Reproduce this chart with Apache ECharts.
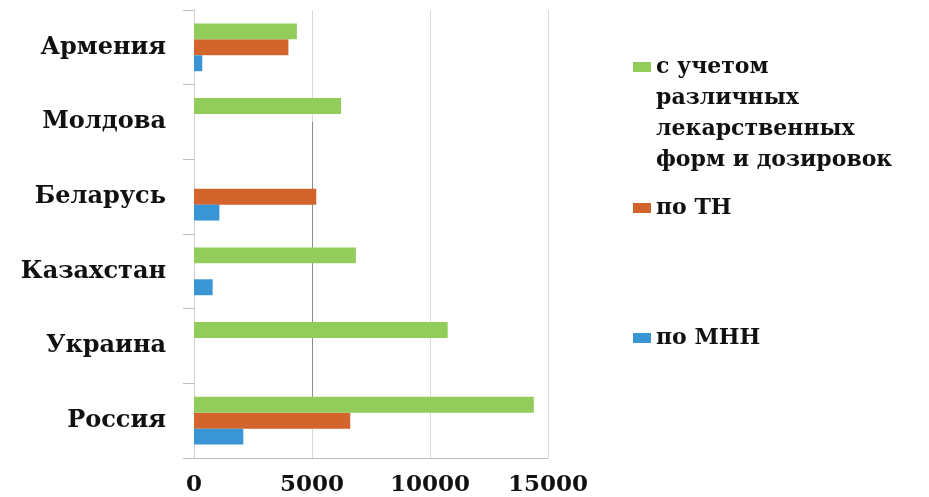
<!DOCTYPE html>
<html>
<head>
<meta charset="utf-8">
<script src="https://cdn.jsdelivr.net/npm/echarts@6/dist/echarts.min.js"></script>
<style>html,body{margin:0;padding:0;background:#fff}#c{width:929px;height:497px}</style>
</head>
<body>
<div id="c"></div>
<script>
const categories = ['Россия', 'Украина', 'Казахстан', 'Беларусь', 'Молдова', 'Армения'];
const seriesNames = ['с учетом различных лекарственных форм и дозировок', 'по ТН', 'по МНН'];
const valuesForms = [14400, 10750, 6860, null, 6230, 4360];
const valuesTN = [6620, null, null, 5180, null, 4000];
const valuesMNN = [2090, null, 790, 1075, null, 350];
const xTicks = [0, 5000, 10000, 15000];

const colors = ['#92CD5B', '#D2642C', '#3A95D4'];
const font = 'DejaVu Serif';

const chart = echarts.init(document.getElementById('c'));
const legendText = {fontFamily: font, fontWeight: 'bold', fontSize: 22, color: '#111', lineHeight: 31};
chart.setOption({
  animation: false,
  grid: {left: 194, right: 381, top: 10, bottom: 39, containLabel: false},
  legend: [
    {data: [seriesNames[0]], left: 633, top: 51.5, padding: 0,
     itemWidth: 18, itemHeight: 124, selectedMode: false,
     icon: 'path://M0,0M18,124M0,10.5L18,10.5L18,20.5L0,20.5Z',
     formatter: () => 'с учетом\nразличных\nлекарственных\nформ и дозировок',
     textStyle: legendText},
    {data: [seriesNames[1]], left: 633, top: 192.5, padding: 0, icon: 'rect',
     itemWidth: 18, itemHeight: 10, selectedMode: false, textStyle: legendText},
    {data: [seriesNames[2]], left: 633, top: 322.5, padding: 0, icon: 'rect',
     itemWidth: 18, itemHeight: 10, selectedMode: false, textStyle: legendText}
  ],
  xAxis: {
    type: 'value', min: xTicks[0], max: xTicks[xTicks.length - 1], interval: 5000,
    axisLine: {show: true, lineStyle: {color: '#bfbfbf'}},
    axisTick: {show: false},
    splitLine: {lineStyle: {color: '#d9d9d9'}},
    axisLabel: {fontFamily: font, fontWeight: 'bold', fontSize: 23, color: '#111', margin: 16,
                formatter: v => String(v)}
  },
  yAxis: {
    type: 'category', data: categories,
    axisLine: {show: true, lineStyle: {color: '#d0d0d0'}},
    axisTick: {show: true, length: 11, lineStyle: {color: '#bfbfbf'}},
    axisLabel: {fontFamily: font, fontWeight: 'bold', fontSize: 24, color: '#111', margin: 28}
  },
  series: [
    {name: seriesNames[0], type: 'bar', data: valuesForms, itemStyle: {color: colors[0]}, barGap: '0%', barCategoryGap: '36%'},
    {name: seriesNames[1], type: 'bar', data: valuesTN, itemStyle: {color: colors[1]}, barGap: '0%', barCategoryGap: '36%',
     z: 1,
     markLine: {silent: true, symbol: 'none', label: {show: false}, z: 0,
                lineStyle: {color: '#8c8c8c', width: 1, type: 'solid'},
                data: [[{coord: [5000, 'Молдова']}, {coord: [5000, 'Россия']}]]}},
    {name: seriesNames[2], type: 'bar', data: valuesMNN, itemStyle: {color: colors[2]}, barGap: '0%', barCategoryGap: '36%'}
  ]
});
</script>
</body>
</html>
